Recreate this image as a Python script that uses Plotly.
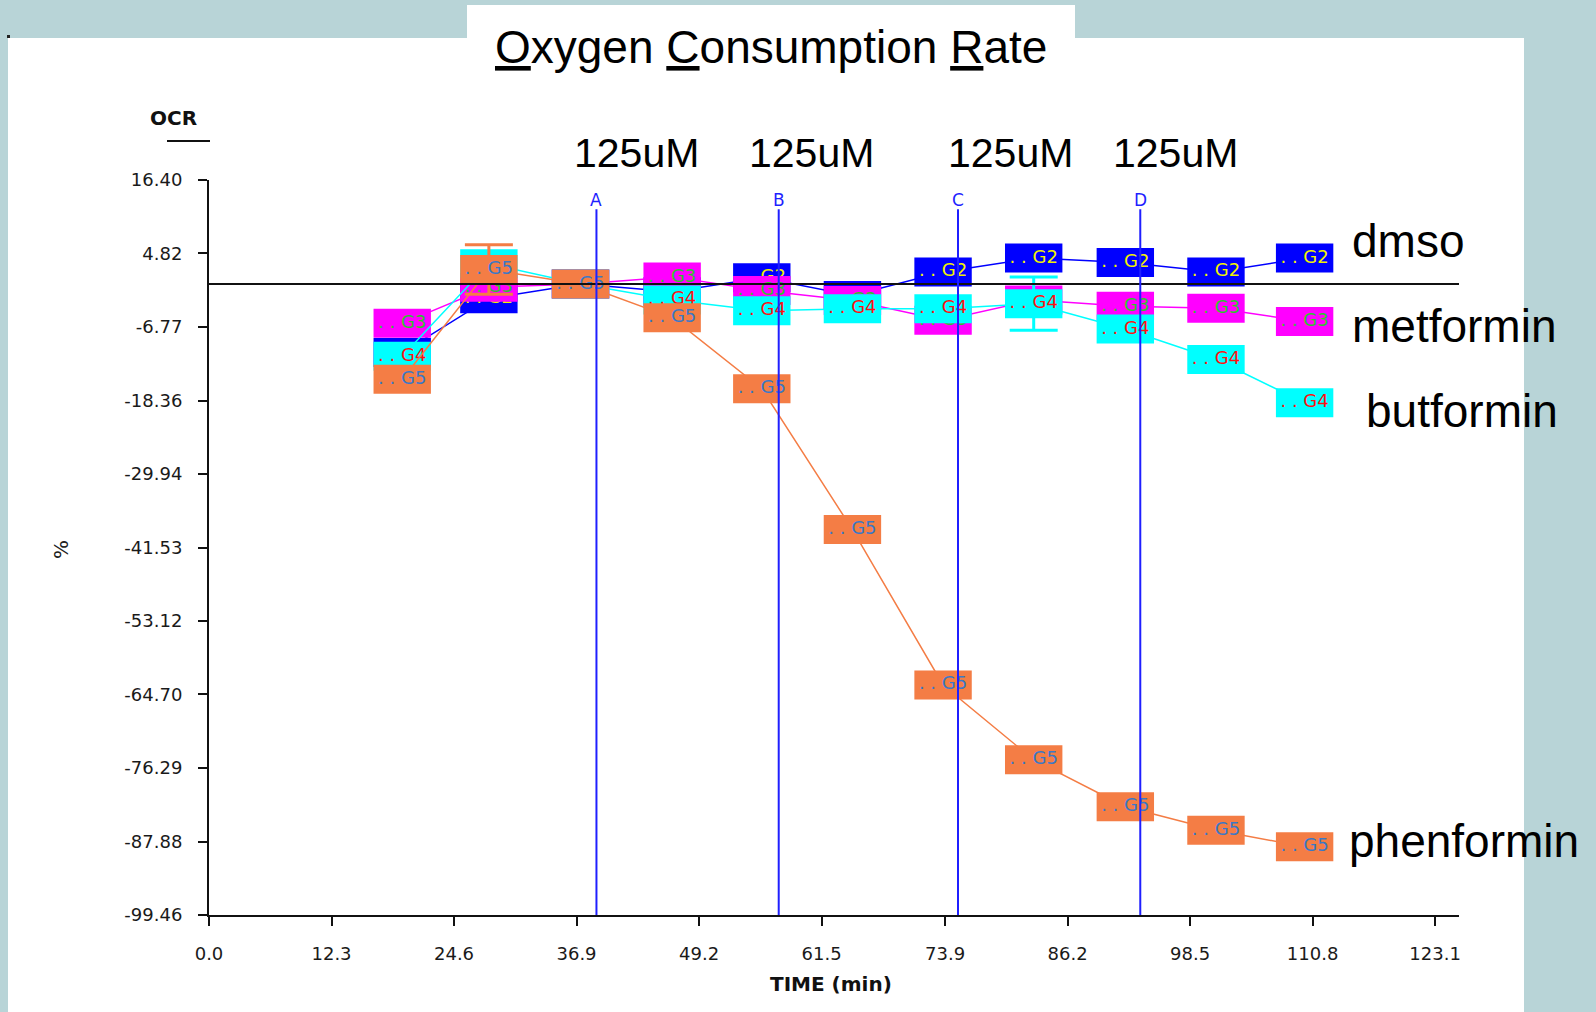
import plotly.graph_objects as go

# ---- canvas / plot-area geometry (pixels) ----
W, H = 1596, 1012
PLOT_L, PLOT_R, PLOT_T, PLOT_B = 209, 1459, 180, 915


def px_x(px):
    return (px - PLOT_L) / (PLOT_R - PLOT_L)


def px_y(py):
    return (PLOT_B - py) / (PLOT_B - PLOT_T)


# ---- data ----
time_min = [19.4, 28.1, 37.3, 46.5, 55.5, 64.6, 73.7, 82.8, 92.0, 101.1, 110.0]

dmso = [-10.8, -2.3, 0.0, -1.2, 1.0, -1.8, 1.9, 4.1, 3.4, 1.9, 4.1]
metformin = [-6.2, -0.5, 0.0, 1.1, -1.0, -2.6, -5.7, -2.5, -3.5, -3.8, -5.9]
butformin = [-11.4, 3.2, 0.0, -2.5, -4.2, -3.9, -3.9, -3.1, -7.1, -11.9, -18.7]
phenformin = [-15.0, 2.3, 0.0, -5.3, -16.5, -38.7, -63.2, -75.0, -82.4, -86.1, -88.7]

dmso_err = [0, 0, 0, 0, 0, 0, 0, 0, 0, 0, 0]
metformin_err = [0, 0, 0, 0, 0, 0, 0, 0, 0, 0, 0]
butformin_err = [0, 0, 0, 0, 0, 0, 0, 4.2, 0, 0, 0]
phenformin_err = [0, 3.9, 0, 0, 0, 0, 0, 0, 0, 0, 0]

series_names = ["dmso", "metformin", "butformin", "phenformin"]
group_ids = ["G2", "G3", "G4", "G5"]

injection_times = [38.9, 57.2, 75.2, 93.5]
injection_ports = ["A", "B", "C", "D"]
injection_doses = ["125uM", "125uM", "125uM", "125uM"]

y_ticks = [16.40, 4.82, -6.77, -18.36, -29.94, -41.53, -53.12, -64.70, -76.29, -87.88, -99.46]
y_tick_text = ["16.40", "4.82", "-6.77", "-18.36", "-29.94", "-41.53",
               "-53.12", "-64.70", "-76.29", "-87.88", "-99.46"]
x_ticks = [0.0, 12.3, 24.6, 36.9, 49.2, 61.5, 73.9, 86.2, 98.5, 110.8, 123.1]
x_tick_text = ["0.0", "12.3", "24.6", "36.9", "49.2", "61.5",
               "73.9", "86.2", "98.5", "110.8", "123.1"]

# ---- styling ----
BOX_COLORS = ["#0000ff", "#ff00ff", "#00ffff", "#f47d45"]
TEXT_COLORS = ["#f2f200", "#2fc22f", "#ff1010", "#3a78c6"]
BG = "#b8d4d7"
INJ_BLUE = "#1f1fff"
TICK_FONT = dict(family="DejaVu Sans", size=18, color="#1a1a1a")

fig = go.Figure()

values = [dmso, metformin, butformin, phenformin]
errors = [dmso_err, metformin_err, butformin_err, phenformin_err]

for name, vals, err, gid, bc, tc in zip(series_names, values, errors,
                                        group_ids, BOX_COLORS, TEXT_COLORS):
    fig.add_trace(go.Scatter(
        x=time_min, y=vals, name=name,
        mode="lines+markers+text",
        line=dict(color=bc, width=1.5),
        marker=dict(symbol="line-ew", size=41, color=bc,
                    line=dict(color=bc, width=29)),
        text=[". . " + gid] * len(vals),
        textposition="middle center",
        textfont=dict(family="DejaVu Sans", size=18, color=tc),
        error_y=dict(type="data", array=err, visible=True, color=bc,
                     thickness=3, width=24),
        showlegend=False, cliponaxis=False,
    ))

shapes = []
# slide backdrop: white panel and title tab
shapes.append(dict(type="rect", xref="paper", yref="paper", layer="below",
                   x0=px_x(8), x1=px_x(1524), y0=px_y(38), y1=px_y(H + 5),
                   fillcolor="white", line=dict(width=0)))
shapes.append(dict(type="rect", xref="paper", yref="paper", layer="below",
                   x0=px_x(467), x1=px_x(1075), y0=px_y(5), y1=px_y(40),
                   fillcolor="white", line=dict(width=0)))
shapes.append(dict(type="rect", xref="paper", yref="paper", layer="below",
                   x0=px_x(7), x1=px_x(10), y0=px_y(35), y1=px_y(38),
                   fillcolor="#222222", line=dict(width=0)))
# zero reference line
shapes.append(dict(type="line", xref="paper", yref="y", layer="above",
                   x0=0, x1=1, y0=0, y1=0, line=dict(color="#111111", width=2)))
# injection markers
for t in injection_times:
    shapes.append(dict(type="line", xref="x", yref="y", layer="above",
                       x0=t, x1=t, y0=-99.46, y1=11.8,
                       line=dict(color=INJ_BLUE, width=2)))
# underline under the OCR heading
shapes.append(dict(type="line", xref="paper", yref="paper",
                   x0=px_x(167), x1=px_x(210), y0=px_y(141), y1=px_y(141),
                   line=dict(color="#111111", width=2)))

annotations = []
annotations.append(dict(
    text="<u>O</u>xygen <u>C</u>onsumption <u>R</u>ate",
    xref="paper", yref="paper", x=px_x(771), y=px_y(47),
    xanchor="center", yanchor="middle", showarrow=False,
    font=dict(family="Liberation Sans", size=46, color="black")))
annotations.append(dict(
    text="<b>OCR</b>", xref="paper", yref="paper", x=px_x(173), y=px_y(118),
    xanchor="center", yanchor="middle", showarrow=False,
    font=dict(family="DejaVu Sans", size=20, color="#111111")))
annotations.append(dict(
    text="%", xref="paper", yref="paper", x=px_x(61), y=px_y(550),
    xanchor="center", yanchor="middle", showarrow=False, textangle=-90,
    font=dict(family="DejaVu Sans", size=20, color="#222222")))
annotations.append(dict(
    text="<b>TIME (min)</b>", xref="paper", yref="paper", x=px_x(831), y=px_y(984),
    xanchor="center", yanchor="middle", showarrow=False,
    font=dict(family="DejaVu Sans", size=20, color="#111111")))

dose_px = [636, 811, 1011, 1175]
for t, port, dose, dx in zip(injection_times, injection_ports, injection_doses, dose_px):
    annotations.append(dict(
        text=port, xref="x", yref="paper", x=t, y=px_y(200),
        xanchor="center", yanchor="middle", showarrow=False,
        font=dict(family="DejaVu Sans", size=17, color=INJ_BLUE)))
    annotations.append(dict(
        text=dose, xref="paper", yref="paper", x=px_x(dx), y=px_y(153),
        xanchor="center", yanchor="middle", showarrow=False,
        font=dict(family="Liberation Sans", size=41, color="black")))

label_pos = [(1350, 241), (1350, 326), (1364, 411), (1347, 841)]
for name, (lx, ly) in zip(series_names, label_pos):
    annotations.append(dict(
        text=name, xref="paper", yref="paper", x=px_x(lx), y=px_y(ly),
        xanchor="left", yanchor="middle", showarrow=False,
        font=dict(family="Liberation Sans", size=46, color="black")))

fig.update_layout(
    width=W, height=H,
    margin=dict(l=PLOT_L, r=W - PLOT_R, t=PLOT_T, b=H - PLOT_B, pad=0),
    paper_bgcolor=BG, plot_bgcolor="white",
    shapes=shapes, annotations=annotations,
    xaxis=dict(range=[0, 125.5], tickvals=x_ticks, ticktext=x_tick_text,
               showgrid=False, zeroline=False, showline=True,
               linecolor="#111111", linewidth=2,
               ticks="outside", ticklen=9, tickwidth=2, tickcolor="#111111",
               tickfont=TICK_FONT, ticklabelstandoff=12),
    yaxis=dict(range=[-99.46, 16.40], tickvals=y_ticks, ticktext=y_tick_text,
               showgrid=False, zeroline=False, showline=True,
               linecolor="#111111", linewidth=2,
               ticks="outside", ticklen=9, tickwidth=2, tickcolor="#111111",
               tickfont=TICK_FONT, ticklabelstandoff=12),
)

fig.write_html("out.html")
